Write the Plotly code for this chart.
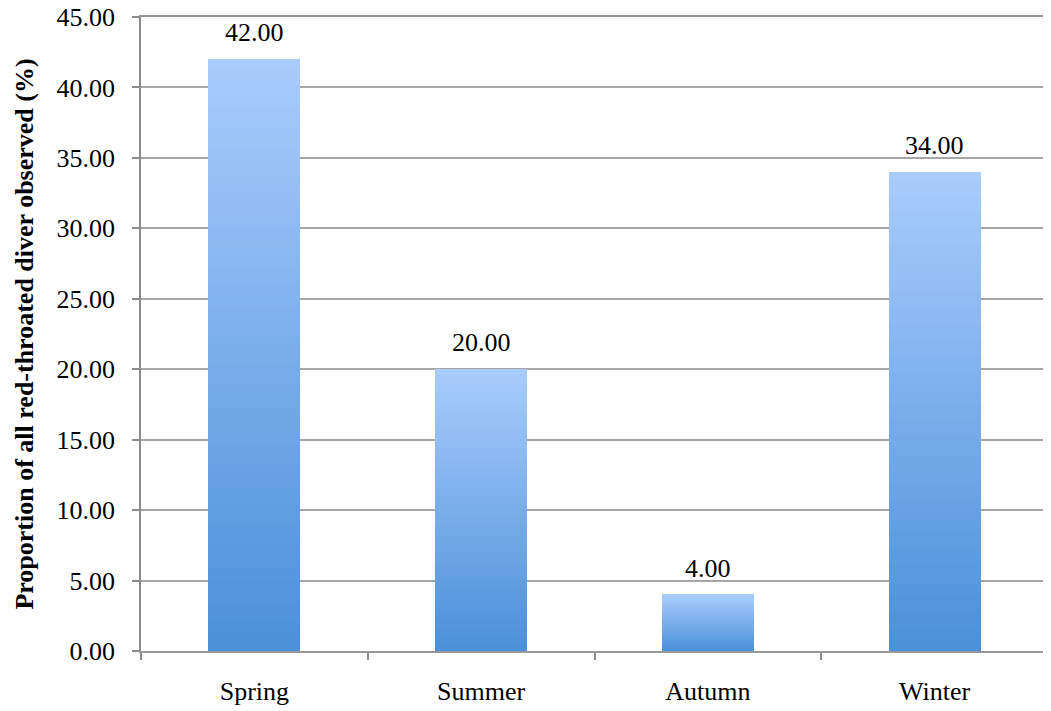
import plotly.graph_objects as go

seasons = ["Spring", "Summer", "Autumn", "Winter"]
proportion = [42.00, 20.00, 4.00, 34.00]
y_ticks = [0, 5, 10, 15, 20, 25, 30, 35, 40, 45]

# vertical gradient per bar: light at top, darker at bottom
top_rgb = (169, 204, 252)
bottom_rgb = (74, 144, 217)
n_slices = 60


def mix(t):
    r, g, b = (round(bottom_rgb[i] + (top_rgb[i] - bottom_rgb[i]) * t) for i in range(3))
    return f"rgb({r},{g},{b})"


fig = go.Figure()

for k in range(n_slices):
    t = (k + 0.5) / n_slices
    fig.add_trace(go.Bar(
        x=seasons,
        y=[v / n_slices for v in proportion],
        marker=dict(color=mix(t), line=dict(width=0)),
        hoverinfo="skip",
        showlegend=False,
    ))

for s, v in zip(seasons, proportion):
    fig.add_annotation(
        x=s, y=v, text=f"{v:.2f}", showarrow=False,
        yanchor="bottom", yshift=10,
        font=dict(family="Liberation Serif", size=26, color="#000000"),
    )

# page body has an 8px margin, so the figure is a bit smaller than the window
fig.update_layout(
    width=1043,
    height=703,
    barmode="stack",
    bargap=0.595,
    plot_bgcolor="white",
    paper_bgcolor="white",
    margin=dict(l=133, r=3, t=9, b=60),
    font=dict(family="Liberation Serif", size=26, color="#000000"),
)

fig.update_xaxes(
    type="category",
    showline=True,
    mirror=True,  # top edge doubles as the 45.00 gridline
    linecolor="#999999",
    linewidth=1.5,
    ticks="outside",
    tickson="boundaries",
    ticklen=7,
    tickcolor="#8c8c8c",
    tickwidth=1.5,
    showgrid=False,
    ticklabelstandoff=16,
    tickfont=dict(family="Liberation Serif", size=26),
    automargin=False,
)

fig.update_yaxes(
    range=[0, 45],
    tickvals=y_ticks,
    ticktext=[f"{v:.2f}" for v in y_ticks],
    showline=True,
    linecolor="#8c8c8c",
    linewidth=1.5,
    ticks="outside",
    ticklen=7,
    tickcolor="#8c8c8c",
    tickwidth=1.5,
    showgrid=True,
    gridcolor="#a6a6a6",
    gridwidth=1.5,
    zeroline=False,
    ticklabelstandoff=12,
    ticklabeloverflow="allow",
    tickfont=dict(family="Liberation Serif", size=26),
    automargin=False,
    title=dict(
        text="<b>Proportion of all red-throated diver observed (%)</b>",
        font=dict(family="Liberation Serif", size=26),
    ),
)

fig.write_html("out.html")
